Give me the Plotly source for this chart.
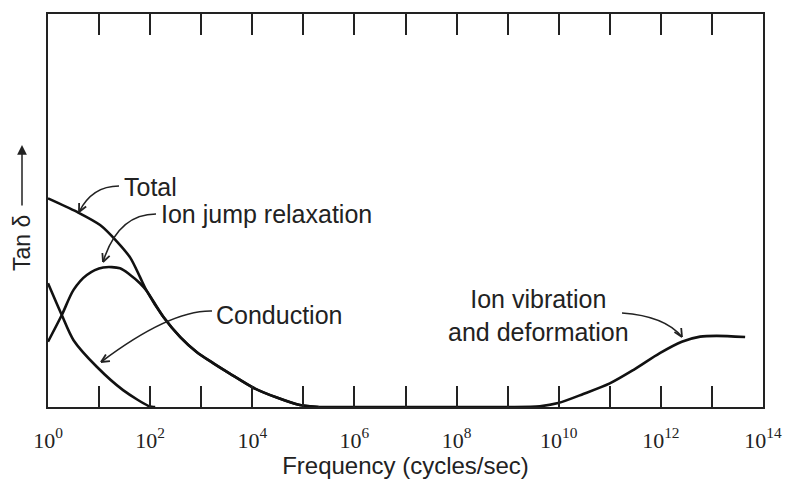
import math
import plotly.graph_objects as go

# ---- data (log10 of frequency, tan delta in relative units) ----
total_logf = [0, 0.56, 1.02, 1.35, 1.61, 1.80, 1.93, 2.26, 2.59, 2.91, 3.24, 3.56, 4.02, 4.48, 4.93, 5.3]
total_tan = [0.531, 0.497, 0.463, 0.421, 0.380, 0.331, 0.296, 0.229, 0.178, 0.140, 0.111, 0.085, 0.049, 0.024, 0.005, 0.0]

jump_logf = [0, 0.27, 0.50, 0.76, 1.08, 1.41, 1.61, 1.80, 1.93, 2.26, 2.59, 2.91, 3.24, 3.56, 4.02, 4.48, 4.93, 5.3]
jump_tan = [0.166, 0.234, 0.298, 0.336, 0.355, 0.353, 0.336, 0.315, 0.296, 0.229, 0.178, 0.140, 0.111, 0.085, 0.049, 0.024, 0.005, 0.0]

cond_logf = [0, 0.27, 0.50, 0.95, 1.47, 2.0, 2.1]
cond_tan = [0.315, 0.234, 0.170, 0.103, 0.043, 0.001, 0.0]

vib_logf = [5.3, 7.0, 9.0, 9.63, 9.99, 10.48, 11.0, 11.46, 11.98, 12.41, 12.77, 13.09, 13.65]
vib_tan = [0.0, 0.0, 0.0, 0.002, 0.010, 0.033, 0.060, 0.094, 0.137, 0.166, 0.179, 0.181, 0.178]

tick_exponents = list(range(0, 15))
tick_labels = [f"10<sup>{e}</sup>" if e % 2 == 0 else "" for e in tick_exponents]

# ---- layout geometry (pixels) ----
W, H = 800, 480
L, R, T, B = 48, 763, 14, 407


def px(x, y):
    """pixel -> paper coordinates"""
    return (x - L) / (R - L), (B - y) / (B - T)


fig = go.Figure()
line = dict(color="#111", width=2.6, shape="spline", smoothing=0.8)
for name, xs, ys in [("Total", total_logf, total_tan),
                     ("Ion jump relaxation", jump_logf, jump_tan),
                     ("Conduction", cond_logf, cond_tan),
                     ("Ion vibration and deformation", vib_logf, vib_tan)]:
    fig.add_trace(go.Scatter(x=[10 ** v for v in xs], y=ys, mode="lines",
                             line=line, name=name, showlegend=False,
                             hoverinfo="skip"))

shapes = []


def curved_arrow(p0, c, p1, head_dir):
    x0, y0 = px(*p0)
    cx, cy = px(*c)
    x1, y1 = px(*p1)
    shapes.append(dict(type="path", xref="paper", yref="paper",
                       path=f"M {x0},{y0} Q {cx},{cy} {x1},{y1}",
                       line=dict(color="#222", width=1.6)))
    dx, dy = head_dir
    n = math.hypot(dx, dy)
    dx, dy = dx / n, dy / n
    size = 9
    for ang in (0.45, -0.45):
        ca, sa = math.cos(ang), math.sin(ang)
        bx = -(dx * ca - dy * sa) * size
        by = -(dx * sa + dy * ca) * size
        hx, hy = px(p1[0] + bx, p1[1] + by)
        ex, ey = px(*p1)
        shapes.append(dict(type="line", xref="paper", yref="paper",
                           x0=ex, y0=ey, x1=hx, y1=hy,
                           line=dict(color="#222", width=1.8)))


curved_arrow((119, 186), (92, 186), (79, 212), (-0.5, 1))
curved_arrow((156, 214), (118, 214), (103, 262), (-0.4, 1))
curved_arrow((212, 311), (170, 310), (101, 362), (-1, 0.6))
curved_arrow((622, 313), (665, 316), (682, 337), (0.6, 1))

annotations = []
font = dict(family="Liberation Sans, Arial, sans-serif", size=25, color="#222")
for text, x, y, anchor in [("Total", 122, 187, "left"),
                           ("Ion jump relaxation", 159, 214, "left"),
                           ("Conduction", 214, 315, "left"),
                           ("Ion vibration<br>and deformation", 538, 315, "center")]:
    xp, yp = px(x, y)
    annotations.append(dict(text=text, x=xp, y=yp, xref="paper", yref="paper",
                            xanchor=anchor, yanchor="middle", showarrow=False,
                            align="center", font=font))

# y-axis title with arrow
xp, yp = px(22, 243)
annotations.append(dict(text="Tan δ", x=xp, y=yp, xref="paper", yref="paper",
                        xanchor="center", yanchor="middle",
                        textangle=-90, showarrow=False,
                        font=dict(family="Liberation Sans, Arial, sans-serif",
                                  size=23, color="#222")))
xh, yh = px(22, 145)
annotations.append(dict(text="", x=xh, y=yh, xref="paper", yref="paper",
                        showarrow=True, ax=0, ay=62, arrowhead=2, arrowsize=1.3,
                        arrowwidth=1.5, arrowcolor="#222"))

fig.update_layout(
    width=W, height=H,
    margin=dict(l=L, r=W - R, t=T, b=H - B),
    paper_bgcolor="white", plot_bgcolor="white",
    shapes=shapes, annotations=annotations,
    xaxis=dict(type="log", range=[0, 14], automargin=False,
               tickvals=[10 ** e for e in tick_exponents], ticktext=tick_labels,
               ticks="inside", ticklen=21, tickwidth=2, tickcolor="#222",
               showline=True, linewidth=2.2, linecolor="#222", mirror="ticks",
               showgrid=False, zeroline=False,
               ticklabelstandoff=12,
               tickfont=dict(family="Liberation Serif, Times New Roman, serif",
                             size=22, color="#222"),
               title=dict(text="Frequency (cycles/sec)", standoff=6,
                          font=dict(family="Liberation Sans, Arial, sans-serif",
                                    size=24, color="#222"))),
    yaxis=dict(range=[0, 1], showticklabels=False, ticks="", automargin=False,
               showline=True, linewidth=2.2, linecolor="#222", mirror=True,
               showgrid=False, zeroline=False),
)

fig.write_html("out.html")
